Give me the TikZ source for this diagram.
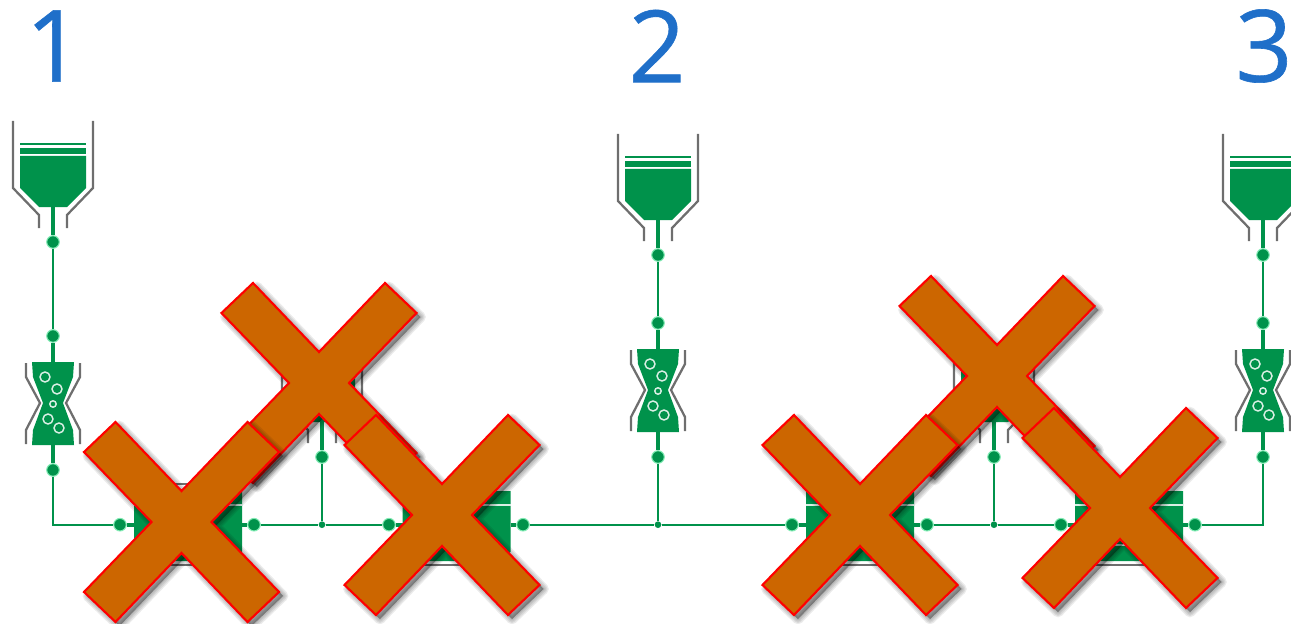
\documentclass[tikz,border=0pt]{standalone}
\usepackage{fontspec}
\setmainfont{Open Sans}
\newfontfamily\numfont[FakeBold=0.6]{Open Sans}
\usepackage{xcolor}
\usetikzlibrary{calc,positioning}
\definecolor{pipegreen}{RGB}{0,146,75}
\definecolor{halogreen}{RGB}{130,235,180}
\definecolor{wallgray}{RGB}{110,110,110}
\definecolor{crossfill}{RGB}{204,102,0}
\definecolor{numblue}{RGB}{31,111,201}
\tikzset{
  pipe/.style={pipegreen,line width=1.8pt},
  stem/.style={pipegreen,line width=3pt},
  wall/.style={wallgray,line width=1.7pt},
  dot/.style={circle,fill=pipegreen,draw=halogreen,line width=.8pt,minimum size=9.4pt,inner sep=0pt},
  junc/.style={circle,fill=pipegreen,minimum size=5pt,inner sep=0pt},
  bubble/.style={draw=white!85!pipegreen,line width=1.1pt},
  number/.style={numblue,font=\numfont\fontsize{75}{75}\selectfont,inner sep=0pt},
  crossmark/.style={fill=crossfill,draw=red,line width=1.6pt,line join=miter}
}
\newcommand{\crosspath}{(-66,-100)--(0,-31)--(66,-100)--(97.5,-70)--(30,0)--(97.5,70)--(66,100)--(0,31)--(-66,100)--(-97.5,70)--(-30,0)--(-97.5,-70)--cycle}
\begin{document}
\begin{tikzpicture}[x=0.75pt,y=-0.75pt]
  \clip (0,0) rectangle (1291,624);
  % column numbers
  \node[number] (num1) at (54,46) {1};
  \node[number] (num2) at (657,46) {2};
  \node[number] (num3) at (1264,46) {3};
  % tanks
  \foreach \n/\cx/\dy in {1/53/0,2/658/13,3/1263/13,4/322/215,5/994/215}{
    \begin{scope}[shift={(\cx,\dy)}]
      \draw[wall] (-40,121)--(-40,188)--(-14,215)--(-14,228);
      \draw[wall] (40,121)--(40,188)--(14,215)--(14,228);
      \fill[pipegreen] (-33,143) rectangle (33,145);
      \fill[pipegreen] (-33,148) rectangle (33,154);
      \fill[pipegreen] (-33,156)--(33,156)--(33,188)--(14,207)--(-14,207)--(-33,188)--cycle;
      \coordinate (tankout\n) at (0,205);
      \node[dot] (tankdot\n) at (0,242) {};
    \end{scope}
    \draw[stem] (tankout\n)--(tankdot\n);
  }
  % hourglass mixers
  \foreach \n/\cx/\dy in {1/53/0,2/658/-13,3/1263/-13}{
    \begin{scope}[shift={(\cx,\dy)}]
      \draw[wall] (-27,363)--(-27,377)--(-13,403)--(-27,430)--(-27,444);
      \draw[wall] (27,363)--(27,377)--(13,403)--(27,430)--(27,444);
      \fill[pipegreen] (-21,362)--(21,362)--(20,377)--(10,403)--(20,430)--(21,445)--(-21,445)--(-20,430)--(-10,403)--(-20,377)--cycle;
      \draw[bubble] (-8,377) circle (5);
      \draw[bubble] (4,389) circle (5);
      \draw[bubble] (0,404) circle (3.2);
      \draw[bubble] (-5,419) circle (5);
      \draw[bubble] (6,428) circle (5);
      \coordinate (hgin\n) at (0,363);
      \coordinate (hgout\n) at (0,444);
      \node[dot] (hgtop\n) at (0,336) {};
      \node[dot] (hgbot\n) at (0,470) {};
    \end{scope}
    \draw[stem] (hgtop\n)--(hgin\n);
    \draw[stem] (hgout\n)--(hgbot\n);
  }
  % reactors on the bus
  \foreach \n/\cx in {1/188,2/456.5,3/860,4/1129}{
    \begin{scope}[shift={(\cx,0)}]
      \draw[wall] (-40,484)--(40,484);
      \draw[wall] (-40,565)--(40,565);
      \fill[pipegreen] (-54,491)--(54,491)--(54,552)--(42,561)--(-42,561)--(-54,552)--cycle;
      \draw[white!85!pipegreen,line width=1pt] (-54,505)--(54,505);
      \draw[white!85!pipegreen,line width=1pt] (-40,545)--(40,545);
      \coordinate (boxin\n) at (-54,524.7);
      \coordinate (boxout\n) at (54,524.7);
    \end{scope}
  }
  \node[dot] (busa) at (120,524.7) {};
  \node[dot] (busb) at (254,524.7) {};
  \node[dot] (busc) at (389,524.7) {};
  \node[dot] (busd) at (523,524.7) {};
  \node[dot] (buse) at (792,524.7) {};
  \node[dot] (busf) at (927,524.7) {};
  \node[dot] (busg) at (1061,524.7) {};
  \node[dot] (bush) at (1195,524.7) {};
  \node[junc] (junca) at (322,524.7) {};
  \node[junc] (juncb) at (658,524.7) {};
  \node[junc] (juncc) at (994,524.7) {};
  \draw[stem] (busa)--(boxin1) (boxout1)--(busb);
  \draw[stem] (busc)--(boxin2) (boxout2)--(busd);
  \draw[stem] (buse)--(boxin3) (boxout3)--(busf);
  \draw[stem] (busg)--(boxin4) (boxout4)--(bush);
  % thin pipes
  \draw[pipe] (tankdot1)--(hgtop1);
  \draw[pipe] (tankdot2)--(hgtop2);
  \draw[pipe] (tankdot3)--(hgtop3);
  \draw[pipe] (hgbot1)|-(busa);
  \draw[pipe] (busb)--(junca)--(busc);
  \draw[pipe] (busd)--(juncb)--(buse);
  \draw[pipe] (busf)--(juncc)--(busg);
  \draw[pipe] (bush)-|(hgbot3);
  \draw[pipe] (tankdot4)--(junca);
  \draw[pipe] (hgbot2)--(juncb);
  \draw[pipe] (tankdot5)--(juncc);
  % crosses, back ones first
  \foreach \cx/\cy in {319/383,997/376,181.5/522,442/515,860/515,1120/508}{
    \begin{scope}[shift={(\cx,\cy)}]
      \foreach \w in {8,6,4,2,.2}{
        \begin{scope}[shift={(4,4)}]
          \path[fill=black,fill opacity=.08,draw=black,draw opacity=.08,line width=\w pt,line join=round] \crosspath;
        \end{scope}
      }
      \path[crossmark] \crosspath;
    \end{scope}
  }
\end{tikzpicture}
\end{document}
